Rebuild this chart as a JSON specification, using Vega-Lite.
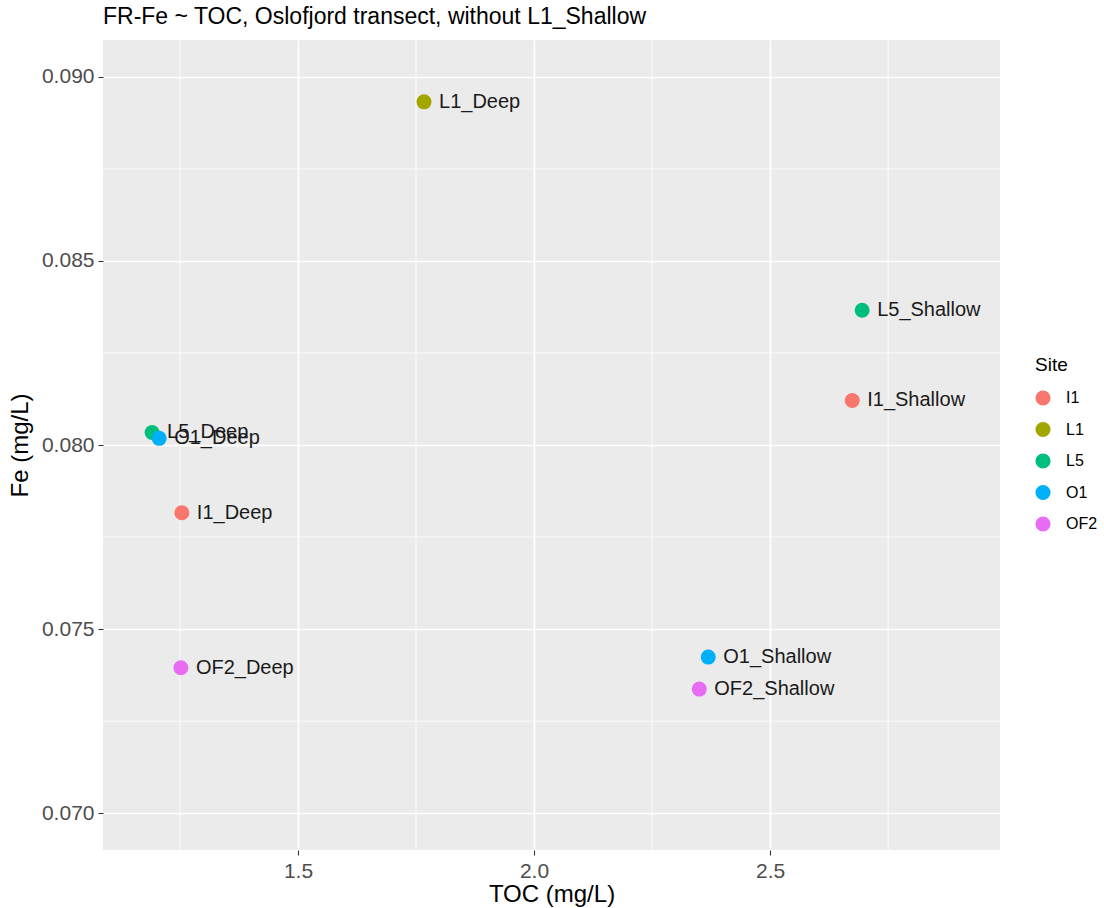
{
  "$schema": "https://vega.github.io/schema/vega-lite/v6.json",
  "autosize": {"type": "none"},
  "padding": {"left": 103, "top": 40, "right": 104, "bottom": 58},
  "width": 897,
  "height": 810,
  "background": "#FFFFFF",
  "title": {
    "text": "FR-Fe ~ TOC, Oslofjord transect, without L1_Shallow",
    "anchor": "start",
    "frame": "group",
    "fontSize": 23,
    "fontWeight": "normal",
    "font": "Liberation Sans",
    "color": "#000000",
    "offset": 11
  },
  "config": {
    "font": "Liberation Sans",
    "view": {"fill": "#EBEBEB", "stroke": null}
  },
  "datasets": {
    "samples": [
      {"sample": "L1_Deep", "site": "L1", "toc": 1.767, "fe": 0.08932},
      {"sample": "L5_Shallow", "site": "L5", "toc": 2.695, "fe": 0.08366},
      {"sample": "I1_Shallow", "site": "I1", "toc": 2.674, "fe": 0.08121},
      {"sample": "L5_Deep", "site": "L5", "toc": 1.191, "fe": 0.08034},
      {"sample": "O1_Deep", "site": "O1", "toc": 1.206, "fe": 0.08018},
      {"sample": "I1_Deep", "site": "I1", "toc": 1.254, "fe": 0.07816},
      {"sample": "OF2_Deep", "site": "OF2", "toc": 1.252, "fe": 0.07395},
      {"sample": "O1_Shallow", "site": "O1", "toc": 2.369, "fe": 0.07424},
      {"sample": "OF2_Shallow", "site": "OF2", "toc": 2.350, "fe": 0.07337}
    ],
    "minor_x": [{"toc": 1.25}, {"toc": 1.75}, {"toc": 2.25}, {"toc": 2.75}],
    "minor_y": [{"fe": 0.0725}, {"fe": 0.0775}, {"fe": 0.0825}, {"fe": 0.0875}]
  },
  "layer": [
    {
      "data": {"name": "minor_x"},
      "mark": {"type": "rule", "color": "#FFFFFF", "strokeWidth": 0.8},
      "encoding": {
        "x": {"field": "toc", "type": "quantitative"}
      }
    },
    {
      "data": {"name": "minor_y"},
      "mark": {"type": "rule", "color": "#FFFFFF", "strokeWidth": 0.8},
      "encoding": {
        "y": {"field": "fe", "type": "quantitative"}
      }
    },
    {
      "data": {"name": "samples"},
      "mark": {"type": "circle", "size": 225, "opacity": 1},
      "encoding": {
        "x": {
          "field": "toc", "type": "quantitative",
          "scale": {"domain": [1.087, 2.987], "nice": false, "zero": false},
          "axis": {
            "values": [1.5, 2.0, 2.5],
            "format": ".1f",
            "title": "TOC (mg/L)",
            "titleFontSize": 24, "titleFontWeight": "normal", "titleColor": "#000000",
            "titlePadding": 1,
            "labelFontSize": 21, "labelColor": "#4D4D4D", "labelPadding": 5,
            "tickColor": "#333333", "tickSize": 5, "tickWidth": 1.1,
            "domain": false,
            "grid": true, "gridColor": "#FFFFFF", "gridWidth": 1.6
          }
        },
        "y": {
          "field": "fe", "type": "quantitative",
          "scale": {"domain": [0.069, 0.0910], "nice": false, "zero": false},
          "axis": {
            "values": [0.070, 0.075, 0.080, 0.085, 0.090],
            "format": ".3f",
            "title": "Fe (mg/L)",
            "titleFontSize": 24, "titleFontWeight": "normal", "titleColor": "#000000",
            "titlePadding": 9,
            "labelFontSize": 21, "labelColor": "#4D4D4D", "labelPadding": 4,
            "tickColor": "#333333", "tickSize": 5, "tickWidth": 1.1,
            "domain": false,
            "grid": true, "gridColor": "#FFFFFF", "gridWidth": 1.6
          }
        },
        "color": {
          "field": "site", "type": "nominal",
          "scale": {
            "domain": ["I1", "L1", "L5", "O1", "OF2"],
            "range": ["#F8766D", "#A3A500", "#00BF7D", "#00B0F6", "#E76BF3"]
          },
          "legend": {
            "title": "Site",
            "orient": "none",
            "legendX": 932,
            "legendY": 316,
            "titleFontSize": 19, "titleFontWeight": "normal", "titleColor": "#000000",
            "titlePadding": 15,
            "labelFontSize": 16, "labelColor": "#000000", "labelOffset": 15,
            "symbolType": "circle", "symbolSize": 230, "symbolOpacity": 1,
            "symbolStrokeWidth": 0,
            "rowPadding": 15.5
          }
        }
      }
    },
    {
      "data": {"name": "samples"},
      "mark": {"type": "text", "align": "left", "baseline": "middle", "dx": 15, "fontSize": 20, "color": "#1A1A1A"},
      "encoding": {
        "x": {"field": "toc", "type": "quantitative"},
        "y": {"field": "fe", "type": "quantitative"},
        "text": {"field": "sample"}
      }
    }
  ]
}
